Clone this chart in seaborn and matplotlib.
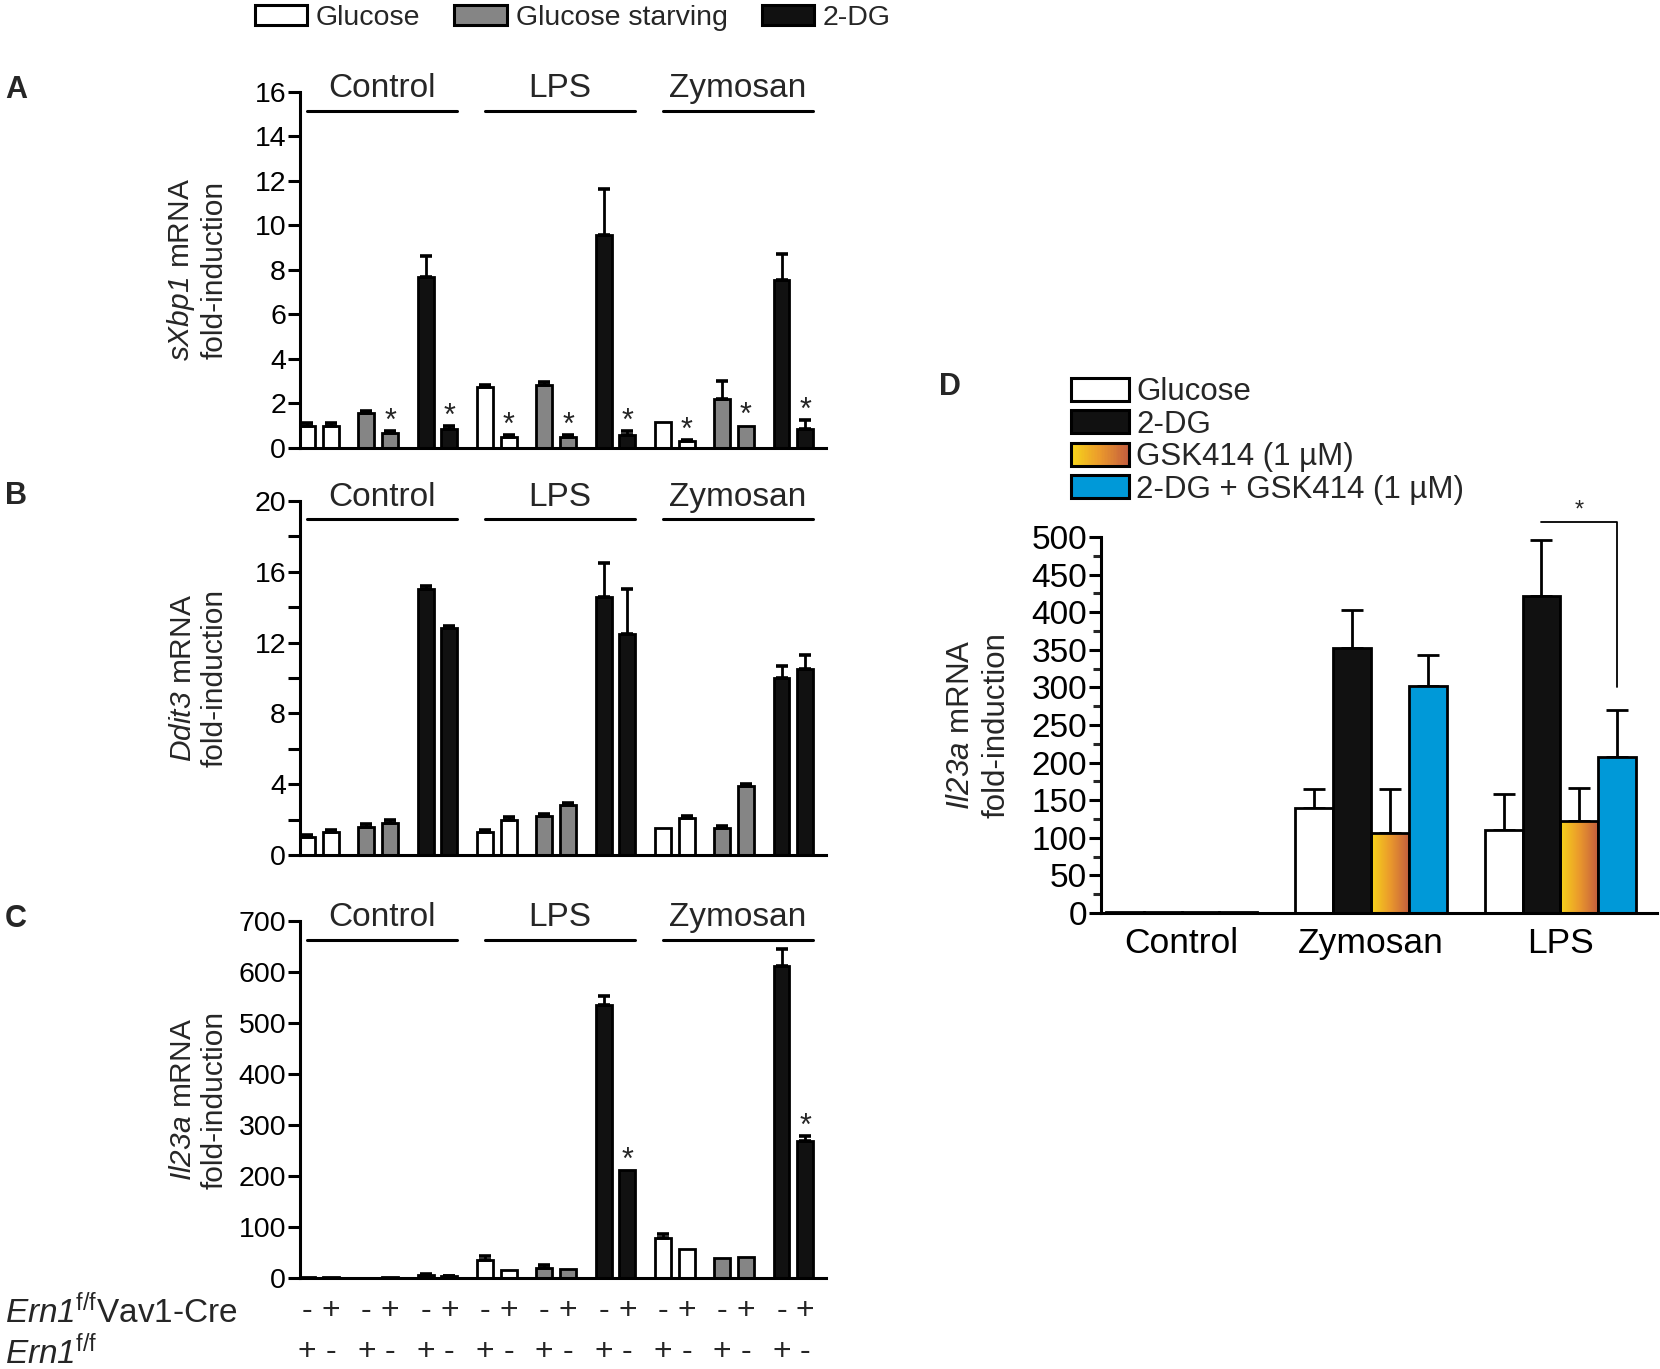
import numpy as np
import pandas as pd
import matplotlib
matplotlib.use('Agg')
import matplotlib.pyplot as plt
import matplotlib.transforms as mtransforms
from matplotlib.patches import Patch, Rectangle
from matplotlib.container import BarContainer
from matplotlib.legend_handler import HandlerBase
from matplotlib.colors import LinearSegmentedColormap
from matplotlib.ticker import MultipleLocator
import seaborn as sns

# ---------------- data ----------------
stimuli = ['Control', 'LPS', 'Zymosan']
treatments = ['Glucose', 'Glucose starving', '2-DG']
genotypes = ['-', '+']          # Ern1f/f Vav1-Cre (row 1); Ern1f/f row is the opposite

# order: stimulus -> treatment -> genotype(-, +)
xbp1_vals = [1.0, 1.0, 1.55, 0.65, 7.7, 0.85,
             2.75, 0.5, 2.85, 0.5, 9.55, 0.6,
             1.15, 0.3, 2.2, 1.0, 7.55, 0.85]
xbp1_err = [0.1, 0.1, 0.12, 0.1, 0.95, 0.12,
            0.1, 0.08, 0.1, 0.08, 2.1, 0.15,
            0.0, 0.06, 0.8, 0.0, 1.15, 0.4]
xbp1_star = [0, 0, 0, 1, 0, 1,
             0, 1, 0, 1, 0, 1,
             0, 1, 0, 1, 0, 1]

ddit3_vals = [1.0, 1.3, 1.6, 1.8, 15.0, 12.8,
              1.3, 2.0, 2.2, 2.8, 14.6, 12.5,
              1.5, 2.1, 1.5, 3.9, 10.0, 10.5]
ddit3_err = [0.12, 0.12, 0.15, 0.15, 0.2, 0.15,
             0.12, 0.12, 0.12, 0.15, 1.9, 2.5,
             0.0, 0.12, 0.12, 0.12, 0.7, 0.8]
ddit3_star = [0] * 18

il23_vals = [1, 1, 0.5, 1.5, 5, 3,
             35, 15, 20, 18, 535, 212,
             78, 57, 40, 42, 612, 268]
il23_err = [0, 0, 0, 0, 2, 1,
            8, 0, 6, 0, 18, 0,
            8, 0, 0, 0, 33, 10]
il23_star = [0, 0, 0, 0, 0, 0,
             0, 0, 0, 0, 0, 1,
             0, 0, 0, 0, 0, 1]

d_groups = ['Control', 'Zymosan', 'LPS']
d_series = ['Glucose', '2-DG', 'GSK414 (1 \u00b5M)', '2-DG + GSK414 (1 \u00b5M)']
d_glucose = [1, 140, 110]
d_2dg = [1, 352, 422]
d_gsk = [1, 106, 122]
d_combo = [1, 302, 208]
d_glucose_err = [0, 25, 48]
d_2dg_err = [0, 51, 74]
d_gsk_err = [0, 59, 44]
d_combo_err = [0, 41, 62]

# ---------------- style ----------------
sns.set_theme(style='white')
plt.rcParams['font.family'] = ['Liberation Sans', 'DejaVu Sans']
plt.rcParams['mathtext.fontset'] = 'custom'
plt.rcParams['mathtext.rm'] = 'Liberation Sans'
plt.rcParams['mathtext.it'] = 'Liberation Sans:italic'
plt.rcParams['mathtext.sf'] = 'Liberation Sans:italic'   # italic incl. digits
plt.rcParams['mathtext.bf'] = 'Liberation Sans:bold'

treat_colors = {'Glucose': 'white', 'Glucose starving': '#858585', '2-DG': '#111111'}
blue = '#0099d8'
gsk_cmap = LinearSegmentedColormap.from_list('gsk', ['#f7d61a', '#eb9a2c', '#c45e3e'])

LW = 2.0
fig = plt.figure(figsize=(16.6, 13.69), dpi=100)

axA = fig.add_axes([0.1807, 0.6728, 0.3169, 0.2600])
axB = fig.add_axes([0.1807, 0.3755, 0.3169, 0.2586])
axC = fig.add_axes([0.1807, 0.0665, 0.3169, 0.2607])
axD = fig.add_axes([0.6633, 0.3331, 0.3349, 0.2746])

pair_names = [f'{s}|{t}' for s in stimuli for t in treatments]


def draw_panel(ax, vals, errs, stars, ymax, major, minor, ylabel, star_off):
    rows = []
    k = 0
    for s in stimuli:
        for t in treatments:
            for g in genotypes:
                rows.append({'pair': f'{s}|{t}', 'geno': g, 'value': vals[k]})
                k += 1
    df = pd.DataFrame(rows)
    sns.barplot(data=df, x='pair', y='value', hue='geno', order=pair_names,
                hue_order=genotypes, width=0.8, gap=0.33, errorbar=None,
                legend=False, ax=ax, edgecolor='black', linewidth=LW,
                saturation=1, palette=['white', 'white'])
    xs = [0.0] * 18
    tops = [0.0] * 18
    bar_conts = [c for c in ax.containers if isinstance(c, BarContainer)]
    for cont in bar_conts:
        for bar in cont:
            xc = bar.get_x() + bar.get_width() / 2
            p = int(round(xc))
            gi = 0 if xc < p else 1
            idx = p * 2 + gi
            bar.set_facecolor(treat_colors[treatments[p % 3]])
            xs[idx] = xc
            tops[idx] = bar.get_height()
    xs = np.array(xs)
    tops = np.array(tops)
    errs = np.array(errs, dtype=float)
    m = errs > 0
    ax.errorbar(xs[m], tops[m], yerr=[np.zeros(m.sum()), errs[m]], fmt='none',
                ecolor='black', elinewidth=LW, capsize=4.5, capthick=2.6, zorder=5)
    for i in range(18):
        if stars[i]:
            ax.annotate('*', (xs[i], tops[i] + errs[i]), xytext=(0, star_off),
                        textcoords='offset points', ha='center', va='bottom',
                        fontsize=22)
    ax.set_xlim(-0.32, 8.55)
    ax.set_ylim(0, ymax)
    ax.yaxis.set_major_locator(MultipleLocator(major))
    if minor:
        ax.yaxis.set_minor_locator(MultipleLocator(minor))
    ax.set_xticks([])
    ax.set_xlabel('')
    for sp in ['top', 'right']:
        ax.spines[sp].set_visible(False)
    for sp in ['left', 'bottom']:
        ax.spines[sp].set_linewidth(2.2)
        ax.spines[sp].set_color('black')
    ax.tick_params(axis='y', which='both', direction='out', length=9, width=2.2,
                   labelsize=20.5, pad=1, left=True, colors='black')
    ax.set_ylabel(ylabel, fontsize=21.5, linespacing=1.2)
    ax.yaxis.set_label_coords(-0.135, 0.5)
    tr = mtransforms.blended_transform_factory(ax.transData, ax.transAxes)
    for g, s in enumerate(stimuli):
        ax.plot([3 * g - 0.2, 3 * g + 2.33], [0.948, 0.948], color='black', lw=2.2,
                transform=tr, clip_on=False)
        ax.text(3 * g + 1.06, 0.986, s, transform=tr, ha='center', va='baseline',
                fontsize=24)
    return xs


draw_panel(axA, xbp1_vals, xbp1_err, xbp1_star, 16, 2, None,
           '$\\mathsf{sXbp1}$ mRNA\nfold-induction', -4)
draw_panel(axB, ddit3_vals, ddit3_err, ddit3_star, 20, 4, 2,
           '$\\mathsf{Ddit3}$ mRNA\nfold-induction', -4)
xsC = draw_panel(axC, il23_vals, il23_err, il23_star, 700, 100, None,
                 '$\\mathsf{Il23a}$ mRNA\nfold-induction', -4)

# genotype rows under panel C
trC = mtransforms.blended_transform_factory(axC.transData, axC.transAxes)
for i, x in enumerate(xsC):
    g = genotypes[i % 2]
    axC.text(x, -0.093, g, transform=trC, ha='center', va='center', fontsize=23)
    axC.text(x, -0.207, '+' if g == '-' else '-', transform=trC, ha='center',
             va='center', fontsize=23)
fig.text(0.003, 0.0415, '$\\mathsf{Ern1}^{\\mathrm{f/f}}$Vav1-Cre', fontsize=24,
         va='center', ha='left')
fig.text(0.003, 0.0115, '$\\mathsf{Ern1}^{\\mathrm{f/f}}$', fontsize=24,
         va='center', ha='left')

# top legend
top_handles = [Patch(facecolor=treat_colors[t], edgecolor='black', linewidth=2.2)
               for t in treatments]
fig.legend(top_handles, treatments, loc='upper center', bbox_to_anchor=(0.345, 1.009),
           ncol=3, frameon=False, fontsize=20.5, handlelength=1.85, handleheight=0.73,
           handletextpad=0.3, columnspacing=1.2, borderpad=0.1)

# ---------------- panel D ----------------
d_vals_all = [d_glucose, d_2dg, d_gsk, d_combo]
d_err_all = [d_glucose_err, d_2dg_err, d_gsk_err, d_combo_err]
rowsD = []
for si, s in enumerate(d_series):
    for gi, g in enumerate(d_groups):
        rowsD.append({'group': g, 'series': s, 'value': d_vals_all[si][gi]})
dfD = pd.DataFrame(rowsD)
sns.barplot(data=dfD, x='group', y='value', hue='series', order=d_groups,
            hue_order=d_series, width=0.8, errorbar=None, legend=False, ax=axD,
            edgecolor='black', linewidth=LW, saturation=1,
            palette=['white', '#111111', 'white', blue])
grad = np.linspace(0, 1, 256).reshape(1, -1)
bar_contsD = [c for c in axD.containers if isinstance(c, BarContainer)]
for si, cont in enumerate(bar_contsD):
    xsD = np.array([b.get_x() + b.get_width() / 2 for b in cont])
    hsD = np.array([b.get_height() for b in cont])
    err = np.array(d_err_all[si], dtype=float)
    m = err > 0
    axD.errorbar(xsD[m], hsD[m], yerr=[np.zeros(m.sum()), err[m]], fmt='none',
                 ecolor='black', elinewidth=LW, capsize=8, capthick=LW, zorder=0.5)
    if si == 2:
        for b in cont:
            x0, w, h = b.get_x(), b.get_width(), b.get_height()
            b.set_facecolor('none')
            im = axD.imshow(grad, cmap=gsk_cmap, extent=[x0, x0 + w, 0, h],
                            aspect='auto', zorder=b.get_zorder() - 0.05,
                            interpolation='bilinear')
            im.set_clip_path(b)
axD.set_xlim(-0.425, 2.51)
axD.set_ylim(0, 500)
axD.yaxis.set_major_locator(MultipleLocator(50))
axD.yaxis.set_minor_locator(MultipleLocator(25))
for sp in ['top', 'right']:
    axD.spines[sp].set_visible(False)
for sp in ['left', 'bottom']:
    axD.spines[sp].set_linewidth(2.2)
    axD.spines[sp].set_color('black')
axD.tick_params(axis='y', which='major', direction='out', length=9, width=2.2,
                labelsize=24, pad=1, left=True, colors='black')
axD.tick_params(axis='y', which='minor', direction='out', length=6, width=2.2, left=True)
axD.tick_params(axis='x', length=0, labelsize=25.5, pad=10, colors='black')
axD.set_xticks([0, 1, 2])
axD.set_xticklabels(d_groups)
axD.set_xlabel('')
axD.set_ylabel('$\\mathsf{Il23a}$ mRNA\nfold-induction', fontsize=22.5, linespacing=1.2)
axD.yaxis.set_label_coords(-0.162, 0.5)

# significance bracket
lps_2dg_x = 2 - 0.1
lps_combo_x = 2 + 0.3
axD.plot([lps_2dg_x, lps_combo_x, lps_combo_x], [520, 520, 301], color='black', lw=1.3,
         clip_on=False)
axD.text((lps_2dg_x + lps_combo_x) / 2, 521, '*', ha='center', va='bottom', fontsize=17)


class GradientHandler(HandlerBase):
    def create_artists(self, legend, orig_handle, xdescent, ydescent, width, height,
                       fontsize, trans):
        arts = []
        n = 40
        for i in range(n):
            r = Rectangle((-xdescent + width * i / n, -ydescent), width / n * 1.1, height,
                          facecolor=gsk_cmap(i / (n - 1)), edgecolor='none',
                          transform=trans)
            arts.append(r)
        arts.append(Rectangle((-xdescent, -ydescent), width, height, facecolor='none',
                              edgecolor='black', linewidth=2.2, transform=trans))
        return arts


class GradPatch(Patch):
    pass


d_handles = [Patch(facecolor='white', edgecolor='black', linewidth=2.2),
             Patch(facecolor='#111111', edgecolor='black', linewidth=2.2),
             GradPatch(facecolor='orange', edgecolor='black', linewidth=2.2),
             Patch(facecolor=blue, edgecolor='black', linewidth=2.2)]
axD.legend(d_handles, d_series, loc='upper left', bbox_to_anchor=(0.645, 0.7245),
           bbox_transform=fig.transFigure, frameon=False, fontsize=22.5,
           handlelength=1.85, handleheight=0.76, handletextpad=0.25, labelspacing=0.08,
           borderpad=0, borderaxespad=0, handler_map={GradPatch: GradientHandler()})

# panel letters
for letter, x, y in [('A', 0.0096, 0.9345), ('B', 0.0096, 0.638), ('C', 0.0096, 0.329),
                     ('D', 0.572, 0.717)]:
    fig.text(x, y, letter, fontsize=22, fontweight='bold', ha='center', va='center')

fig.savefig('out.png', dpi=100, facecolor='white')
